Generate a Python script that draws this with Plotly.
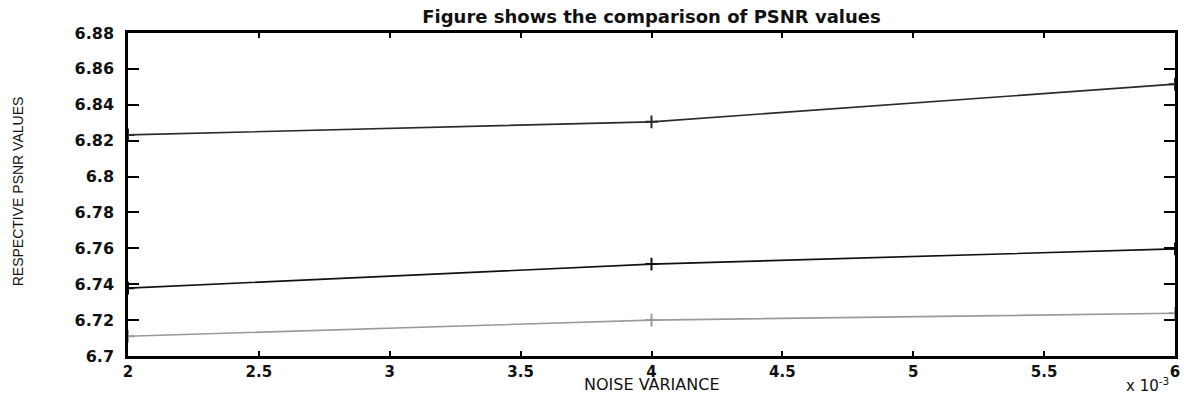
import plotly.graph_objects as go

noise_variance = [2, 4, 6]  # x 10^-3
psnr_series_1 = [6.8232, 6.8305, 6.8515]
psnr_series_2 = [6.7378, 6.7512, 6.7597]
psnr_series_3 = [6.7110, 6.7200, 6.7238]
series_colors = ["#2a2a2a", "#111111", "#9a9a9a"]

x_tick_vals = [2, 2.5, 3, 3.5, 4, 4.5, 5, 5.5, 6]
x_tick_text = ["2", "2.5", "3", "3.5", "4", "4.5", "5", "5.5", "6"]
y_tick_vals = [6.7, 6.72, 6.74, 6.76, 6.78, 6.8, 6.82, 6.84, 6.86, 6.88]
y_tick_text = ["6.7", "6.72", "6.74", "6.76", "6.78", "6.8", "6.82", "6.84", "6.86", "6.88"]

fig = go.Figure()
for ys, col in zip([psnr_series_1, psnr_series_2, psnr_series_3], series_colors):
    fig.add_trace(go.Scatter(
        x=noise_variance, y=ys, mode="lines+markers",
        line=dict(color=col, width=1.6),
        marker=dict(symbol="cross-thin", size=9, line=dict(color=col, width=2)),
        showlegend=False,
    ))

y_font = dict(family="DejaVu Sans", size=16, color="#111", weight="bold")
x_font = dict(family="DejaVu Sans", size=15, color="#111", weight="bold")
fig.update_layout(
    width=1184, height=396,
    margin=dict(l=128, r=9, t=33, b=40),
    paper_bgcolor="white", plot_bgcolor="white",
    title=dict(text="Figure shows the comparison of PSNR values",
               x=0.5, xref="paper", y=0.958, yanchor="middle",
               font=dict(family="DejaVu Sans", size=18, color="#111", weight="bold")),
    xaxis=dict(range=[2, 6], tickvals=x_tick_vals, ticktext=x_tick_text,
               ticks="inside", ticklen=5, tickwidth=2, tickcolor="black",
               showline=True, linewidth=2.5, linecolor="black", mirror="ticks",
               showgrid=False, zeroline=False, tickfont=x_font,
               automargin=False, ticklabelstandoff=0),
    yaxis=dict(range=[6.7, 6.88], tickvals=y_tick_vals, ticktext=y_tick_text,
               ticks="inside", ticklen=11, tickwidth=2, tickcolor="black",
               showline=True, linewidth=2.5, linecolor="black", mirror="ticks",
               showgrid=False, zeroline=False, tickfont=y_font,
               ticklabelstandoff=8, automargin=False),
    annotations=[
        dict(text="NOISE VARIANCE", xref="paper", yref="paper",
             x=0.5, y=0, yshift=-39, xanchor="center", yanchor="bottom",
             borderpad=0, showarrow=False,
             font=dict(family="DejaVu Sans", size=16, color="#111")),
        dict(text="RESPECTIVE PSNR VALUES", xref="paper", yref="paper",
             x=0, y=0.51, xshift=-110, xanchor="center", yanchor="middle",
             textangle=-90, showarrow=False,
             font=dict(family="Liberation Sans", size=14, color="#111")),
        dict(text="x 10<sup>-3</sup>", xref="paper", yref="paper",
             x=1.0, y=0, yshift=-29, xanchor="right", yanchor="middle",
             xshift=-4, showarrow=False,
             font=dict(family="DejaVu Sans", size=15, color="#111")),
    ],
)

fig.write_html("out.html", config={"displayModeBar": False},
               post_script="document.body.style.margin='0';")
